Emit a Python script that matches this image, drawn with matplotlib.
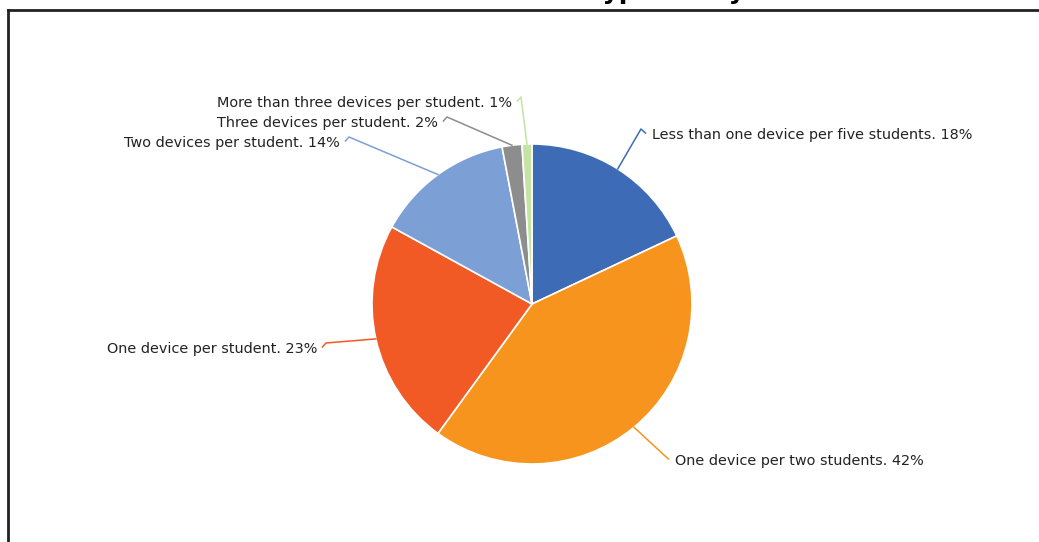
import numpy as np
import matplotlib
matplotlib.use("Agg")
import matplotlib.pyplot as plt
from matplotlib.lines import Line2D

# Data
categories = ["Less than one device per five students",
              "One device per two students",
              "One device per student",
              "Two devices per student",
              "Three devices per student",
              "More than three devices per student"]
shares = [18, 42, 23, 14, 2, 1]
colors = ["#3d6bb5", "#f7941e", "#f15a24", "#7c9fd5", "#8d8d8d", "#c5e3a2"]

# label anchor points (pixels, y from top) - layout only
label_xy = [(652, 135), (675, 461), (317, 349), (340, 143), (438, 123), (512, 103)]
label_ha = ["left", "left", "right", "right", "right", "right"]

W, H = 1039, 542
fig = plt.figure(figsize=(W / 100, H / 100), dpi=100)
ax = fig.add_axes([0, 0, 1, 1])

cx, cy, r = 532, H - 304, 160
wedges, _ = ax.pie(shares, colors=colors, startangle=90, counterclock=False,
                   center=(cx, cy), radius=r,
                   wedgeprops=dict(edgecolor="white", linewidth=1.2))
ax.set_xlim(0, W)
ax.set_ylim(0, H)
ax.set_aspect("auto")
ax.axis("off")

# labels with leader lines
cum = np.cumsum([0] + shares[:-1])
for i, (name, val) in enumerate(zip(categories, shares)):
    mid = (cum[i] + val / 2) / sum(shares) * 2 * np.pi
    px = cx + r * np.sin(mid)
    py = cy + r * np.cos(mid)
    tx, ty = label_xy[i]
    ty = H - ty
    gap = 11 if label_ha[i] == "left" else -9
    ax.plot([px, tx - gap, tx - gap * 0.6], [py, ty + 6, ty + 2],
            color=colors[i], lw=1.1)
    ax.text(tx, ty, f"{name}. {val}%", ha=label_ha[i], va="center",
            fontsize=10.4, color="#222222")

# title, cut off by the top edge as in the reference
fig.text(745 / W, 1 + 0.5 / H, "Devices on a typical day", ha="right",
         va="baseline", fontsize=18, fontweight="bold")

# frame (runs past the right and bottom edges)
fig.add_artist(Line2D([8 / W, 1.01], [1 - 9.5 / H] * 2, color="#222222",
                      lw=2, transform=fig.transFigure))
fig.add_artist(Line2D([8 / W] * 2, [1 - 9.5 / H, -0.01], color="#222222",
                      lw=2, transform=fig.transFigure))

fig.savefig("out.png", dpi=100)
